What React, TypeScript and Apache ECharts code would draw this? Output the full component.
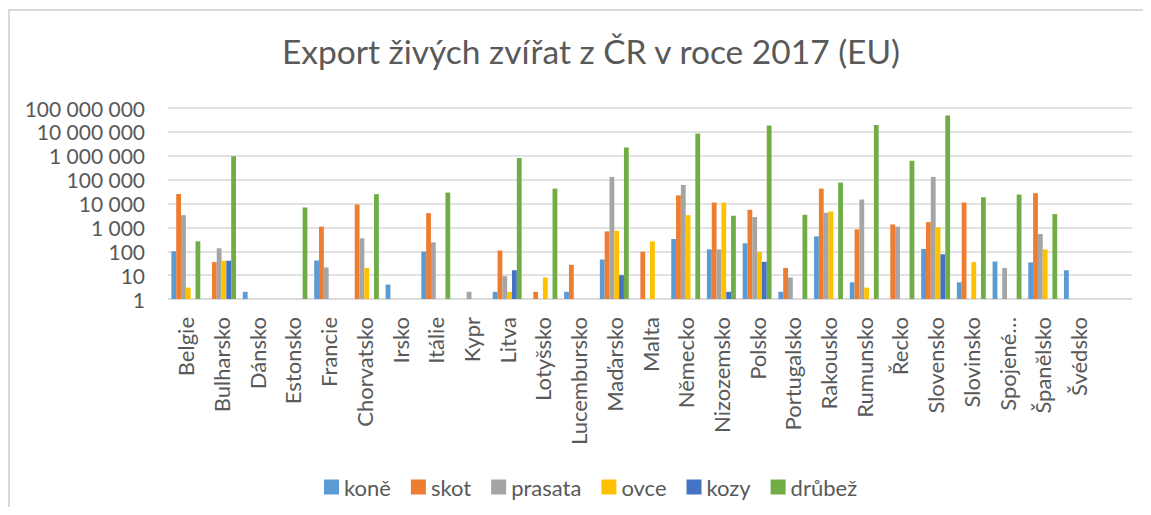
import React, { useEffect, useRef } from "react";
import * as echarts from "echarts";

const categories = [
  "Belgie", "Bulharsko", "Dánsko", "Estonsko", "Francie", "Chorvatsko", "Irsko", "Itálie",
  "Kypr", "Litva", "Lotyšsko", "Lucembursko", "Maďarsko", "Malta", "Německo", "Nizozemsko",
  "Polsko", "Portugalsko", "Rakousko", "Rumunsko", "Řecko", "Slovensko", "Slovinsko",
  "Spojené království", "Španělsko", "Švédsko", "",
];

const kone = [100, null, 2, null, 41, null, 4, 97, null, 2, null, 2, 45, null, 325, 120, 215, 2, 420, 5, null, 125, 5, 37, 34, 16, null];
const skot = [25000, 35, null, null, 1070, 9100, null, 3950, null, 107, 2, 27, 680, 95, 22000, 11000, 5450, 20, 42000, 825, 1330, 1670, 11000, null, 27000, null, null];
const prasata = [3250, 133, null, null, 21, 350, null, 237, 2, 9, null, null, 130000, null, 60000, 120, 2700, 8, 4100, 14700, 1070, 130000, null, 20, 530, null, null];
const ovce = [3, 40, null, null, null, 20, null, null, null, 2, 8, null, 720, 260, 3250, 11000, 94, null, 4650, 3, null, 1000, 35, null, 120, null, null];
const kozy = [null, 40, null, null, null, null, null, null, null, 16, null, null, 10, null, null, 2, 36, null, null, null, null, 75, null, null, null, null, null];
const drubez = [260, 950000, null, 6800, null, 24500, null, 28700, null, 800000, 42000, null, 2200000, null, 8500000, 3070, 18400000, 3380, 75000, 19600000, 620000, 48000000, 18300, 23700, 3600, null, null];

const seriesNames = ["koně", "skot", "prasata", "ovce", "kozy", "drůbež"];
const seriesData = [kone, skot, prasata, ovce, kozy, drubez];
const colors = ["#5B9BD5", "#ED7D31", "#A5A5A5", "#FFC000", "#4472C4", "#70AD47"];

const FONT = "Lato";
const TEXT = "#595959";
const GRID = "#D9D9D9";

function fmt(v: number) {
  return Math.round(v).toString().replace(/\B(?=(\d{3})+(?!\d))/g, " ");
}

export default function App() {
  const ref = useRef<HTMLDivElement>(null);
  useEffect(() => {
    if (!ref.current) return;
    const chart = echarts.init(ref.current, null, { renderer: "svg" });
    chart.setOption({
      animation: false,
      backgroundColor: "#ffffff",
      color: colors,
      title: {
        text: "Export živých zvířat z ČR v roce 2017 (EU)",
        left: 578,
        top: 21,
        textAlign: "center",
        textStyle: { fontFamily: FONT, fontSize: 33.5, fontWeight: "normal", color: TEXT },
      },
      legend: {
        left: 311,
        top: 463,
        itemWidth: 15,
        itemHeight: 15,
        itemGap: 20,
        icon: "rect",
        textStyle: { fontFamily: FONT, fontSize: 22, color: TEXT },
        data: seriesNames,
      },
      grid: { left: 160, right: 11, top: 100, bottom: 208, containLabel: false },
      xAxis: {
        type: "category",
        data: categories,
        axisLine: { show: true, lineStyle: { color: GRID, width: 1.5 } },
        axisTick: { show: false },
        axisLabel: {
          interval: 0,
          rotate: 90,
          margin: 18,
          fontFamily: FONT,
          fontSize: 22,
          color: TEXT,
          formatter: (v: string) => (v.length > 12 ? v.split(" ")[0] + "…" : v),
        },
      },
      yAxis: {
        type: "log",
        logBase: 10,
        min: 1,
        max: 100000000,
        splitNumber: 8,
        axisLine: { show: false },
        axisTick: { show: false },
        splitLine: { show: true, lineStyle: { color: GRID, width: 1.5 } },
        axisLabel: {
          margin: 23,
          fontFamily: FONT,
          fontSize: 21,
          color: TEXT,
          formatter: (v: number) => fmt(v),
        },
      },
      series: seriesNames.map((name, i) => ({
        name,
        type: "bar",
        data: seriesData[i],
        barGap: "0%",
        barCategoryGap: "19%",
        itemStyle: { color: colors[i] },
      })),
      graphic: [
        { type: "line", shape: { x1: 0, y1: 2, x2: 1135, y2: 2 }, style: { stroke: GRID, lineWidth: 2 } },
        { type: "line", shape: { x1: 1, y1: 2, x2: 1, y2: 499 }, style: { stroke: GRID, lineWidth: 2 } },
      ],
    });
    return () => chart.dispose();
  }, []);
  return <div ref={ref} style={{ width: 1135, height: 499 }} />;
}
